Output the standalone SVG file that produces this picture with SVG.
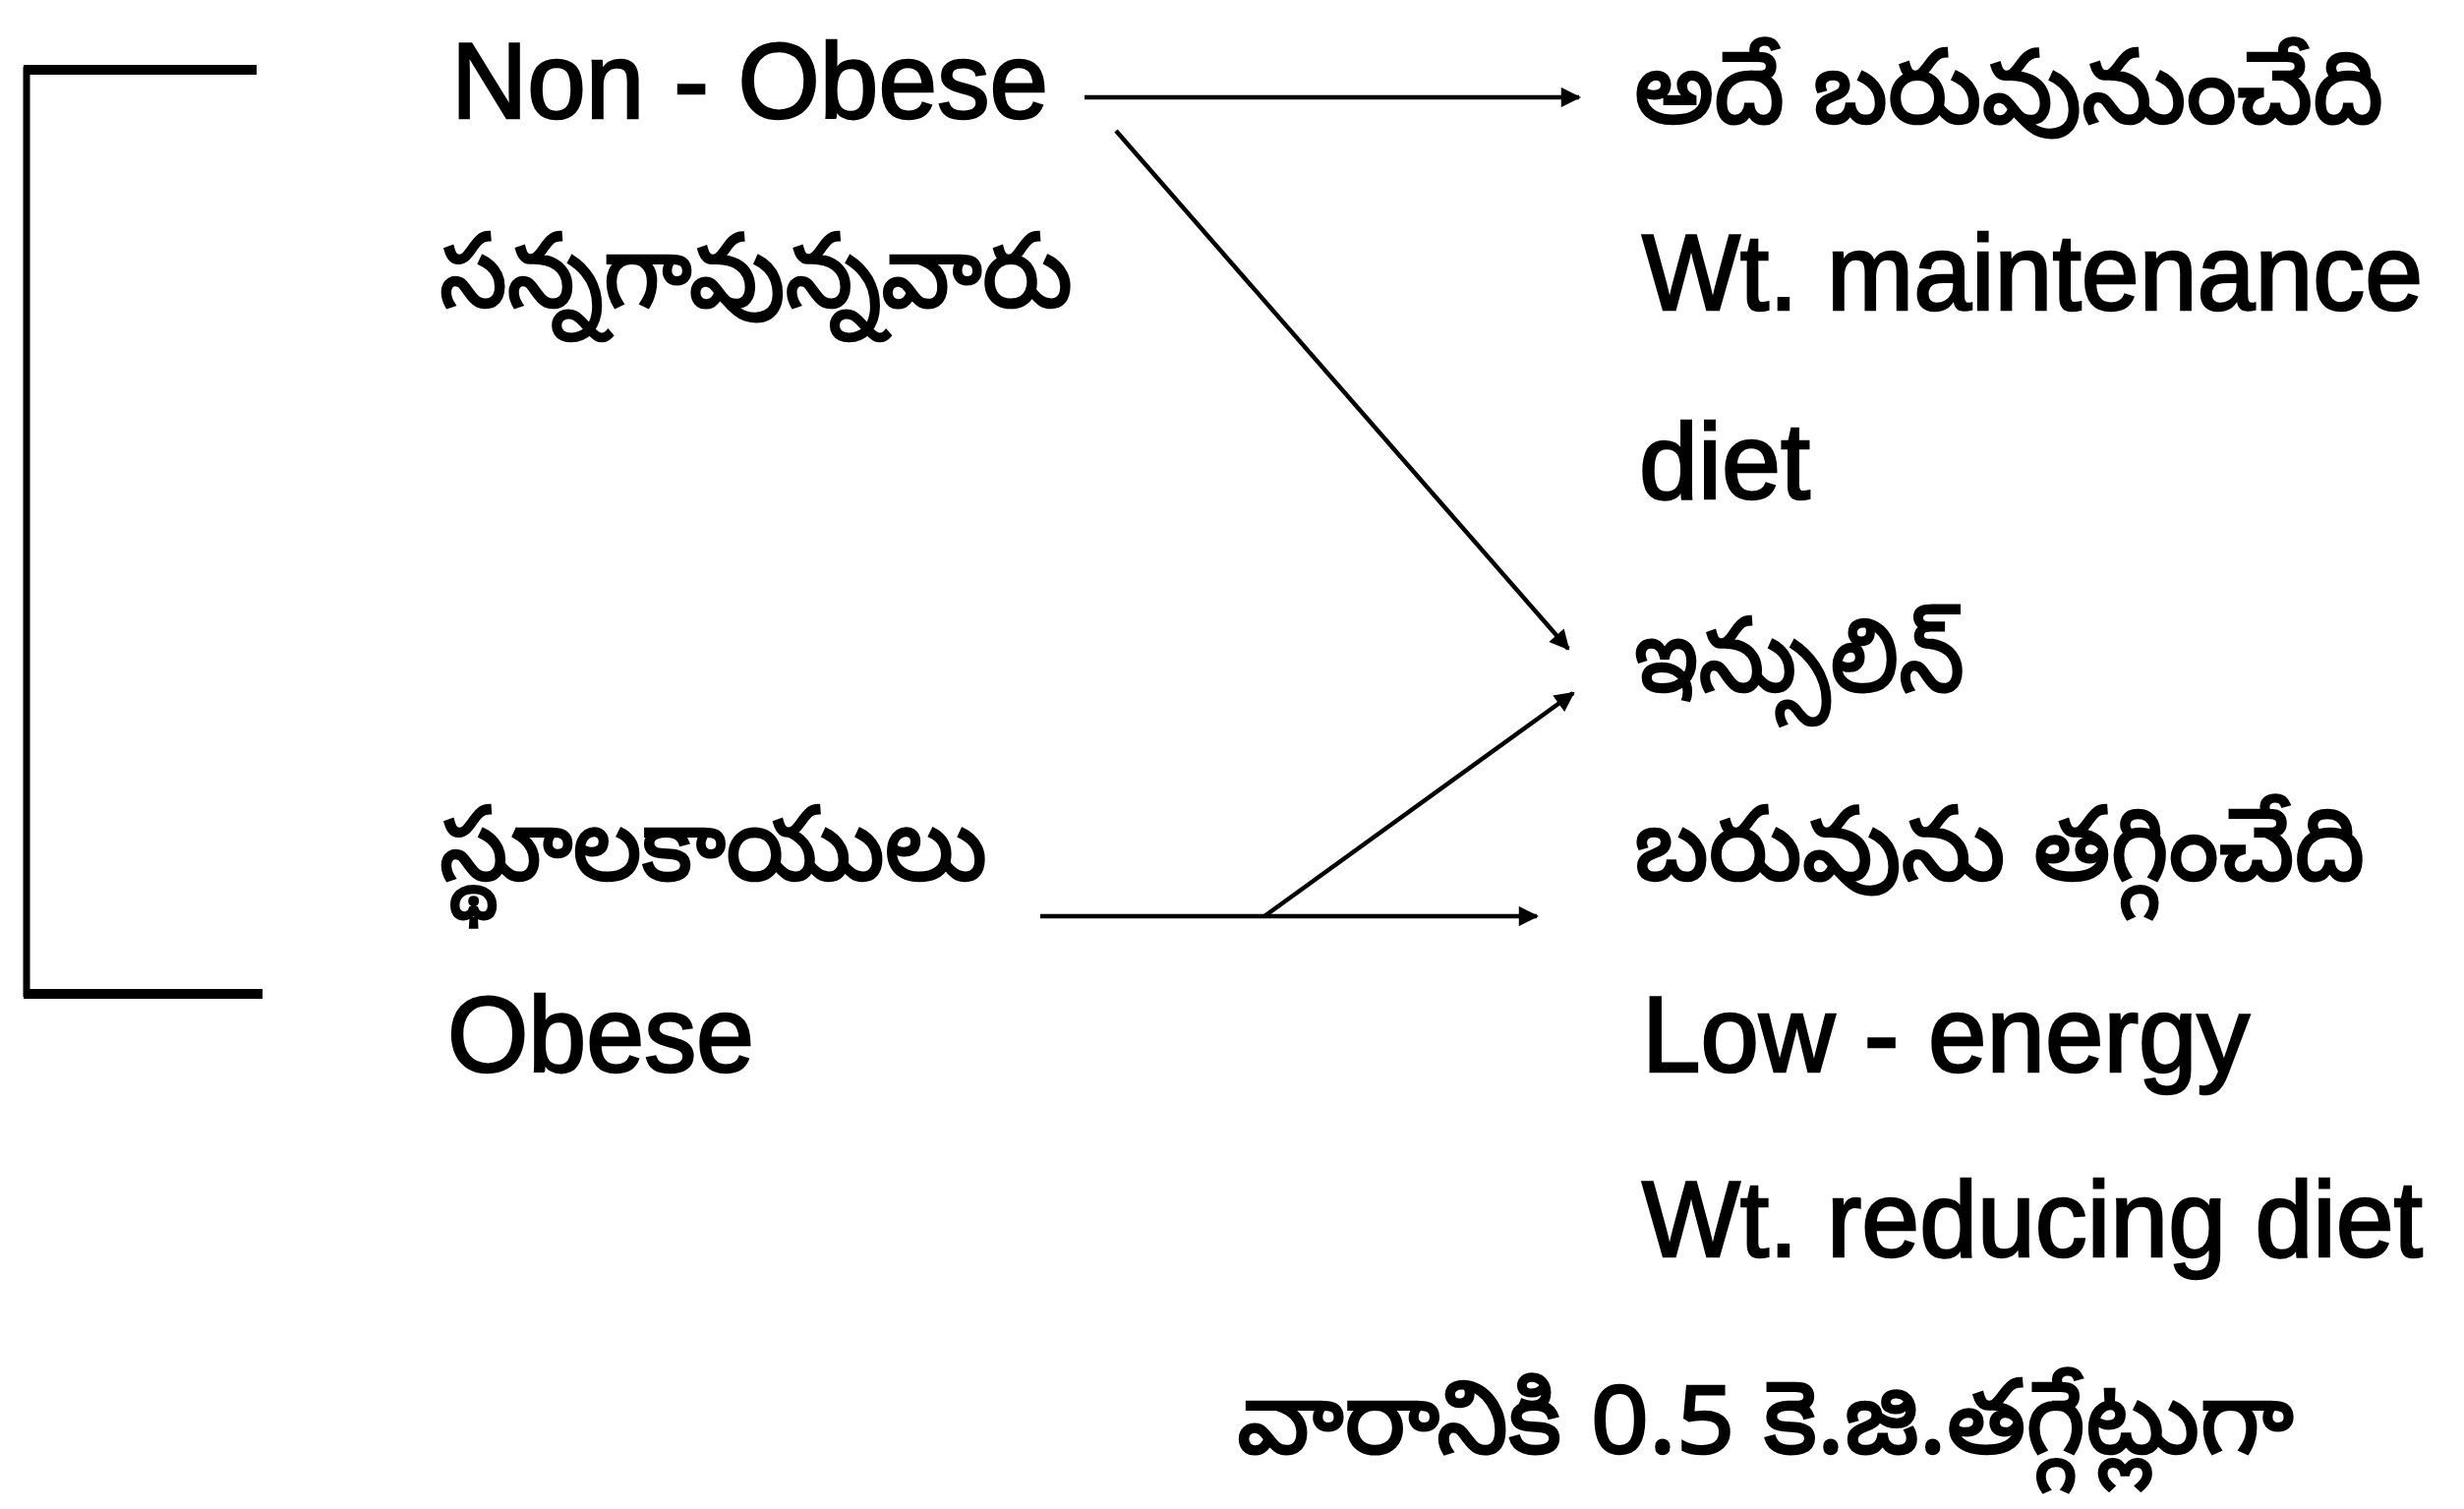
<svg xmlns="http://www.w3.org/2000/svg" width="2506" height="1535" viewBox="0 0 2506 1535">
<defs>
<style>
.en{font-family:"Liberation Sans",Arial,sans-serif;font-size:110px;fill:#000;stroke:#000;stroke-width:2.5}
.te{font-family:"Noto Sans Telugu","Noto Sans","Noto Sans CJK SC",sans-serif;font-size:104px;fill:#000;stroke:#000;stroke-width:2.5}
.ln{stroke:#000;stroke-width:4.5;fill:none}
.br{stroke:#000;fill:none}
</style>
<marker id="ah" viewBox="0 0 10 10" refX="9" refY="5" markerWidth="6" markerHeight="4.5" markerUnits="strokeWidth" orient="auto">
<path d="M0,0 L10,5 L0,10 z" fill="#000"/>
</marker>
</defs>
<rect width="2506" height="1535" fill="#fff"/>
<g id="bracket">
<path class="br" stroke-width="7" d="M27,68 V1014"/>
<path class="br" stroke-width="10" d="M24,71 H261"/>
<path class="br" stroke-width="10" d="M24,1011 H267"/>
</g>
<g id="connectors">
<line class="ln" x1="1103" y1="99" x2="1606" y2="99" marker-end="url(#ah)"/>
<line class="ln" x1="1135" y1="133" x2="1595" y2="660" marker-end="url(#ah)"/>
<line class="ln" x1="1058" y1="932" x2="1563" y2="932" marker-end="url(#ah)"/>
<line class="ln" x1="1286" y1="932" x2="1600" y2="705" marker-end="url(#ah)"/>
</g>
<g id="non-obese">
<text class="en" x="459" y="120" textLength="607" lengthAdjust="spacingAndGlyphs">Non - Obese</text>
<text class="te" x="447" y="312" textLength="644" lengthAdjust="spacingAndGlyphs">సన్నగావున్నవారు</text>
</g>
<g id="obese">
<text class="te" x="447" y="895" textLength="557" lengthAdjust="spacingAndGlyphs">స్థూలకాయులు</text>
<text class="en" x="455" y="1090" textLength="312" lengthAdjust="spacingAndGlyphs">Obese</text>
</g>
<g id="maintenance">
<text class="te" x="1662" y="125" textLength="762" lengthAdjust="spacingAndGlyphs">అదే బరువునుంచేది</text>
<text class="en" x="1670" y="315" textLength="794" lengthAdjust="spacingAndGlyphs">Wt. maintenance</text>
<text class="en" x="1667" y="507" textLength="174" lengthAdjust="spacingAndGlyphs">diet</text>
</g>
<g id="insulin">
<text class="te" x="1662" y="703" textLength="336" lengthAdjust="spacingAndGlyphs">ఇన్సులిన్</text>
</g>
<g id="reducing">
<text class="te" x="1662" y="895" textLength="743" lengthAdjust="spacingAndGlyphs">బరువును తగ్గించేది</text>
<text class="en" x="1670" y="1090" textLength="618" lengthAdjust="spacingAndGlyphs">Low - energy</text>
<text class="en" x="1670" y="1278" textLength="794" lengthAdjust="spacingAndGlyphs">Wt. reducing diet</text>
<text class="te" x="1258" y="1478" textLength="1075" lengthAdjust="spacingAndGlyphs">వారానికి 0.5 కె.జి.తగ్గేట్లుగా</text>
</g>
</svg>
